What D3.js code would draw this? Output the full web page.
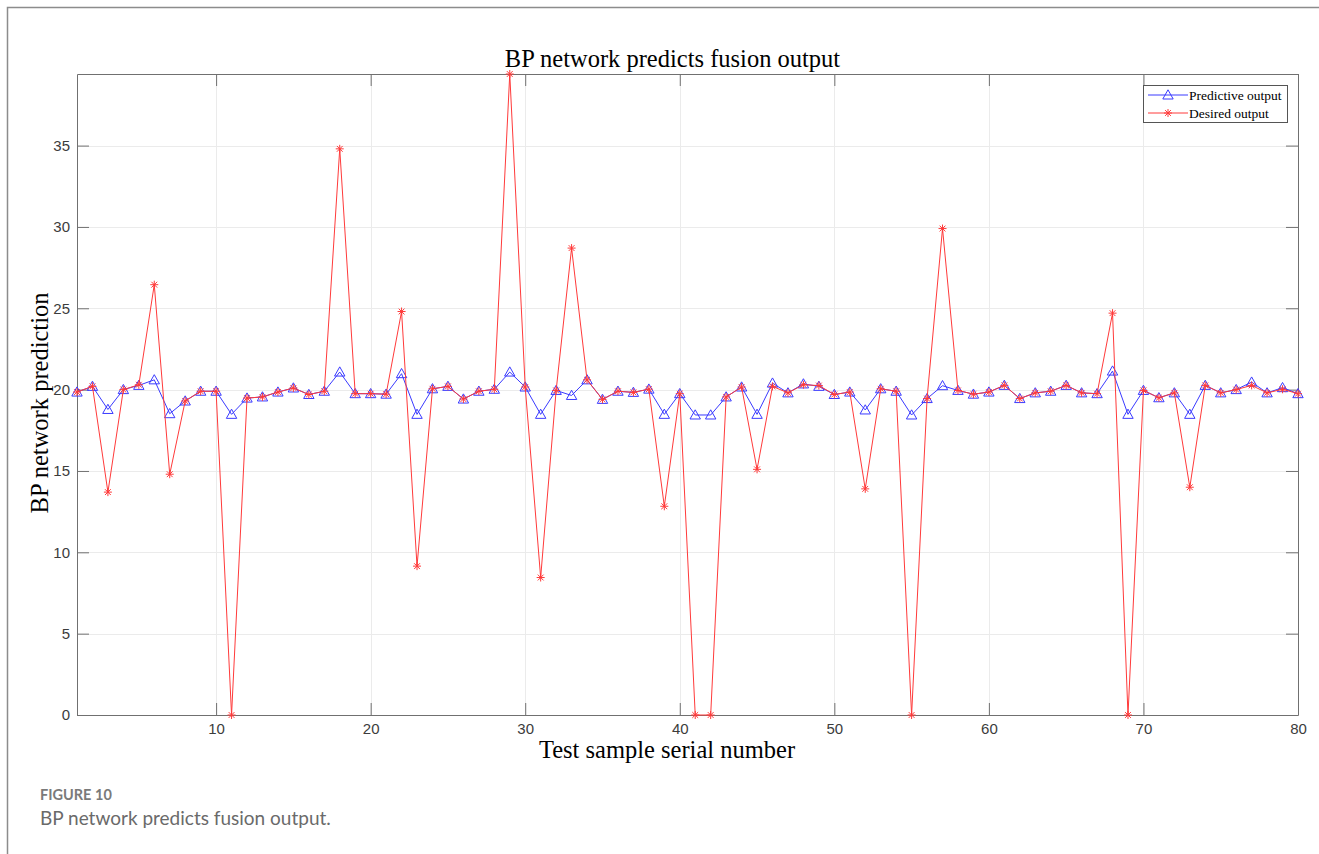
<!DOCTYPE html>
<html>
<head>
<meta charset="utf-8">
<script src="https://cdn.jsdelivr.net/npm/d3@7"></script>
<style>
  html, body { margin: 0; padding: 0; background: #ffffff; }
  svg { display: block; }
</style>
</head>
<body>
<svg id="chart" width="1319" height="854"></svg>
<script>
// BP network output for 80 test samples
const predictive = [
  19.85, 20.2, 18.78, 20.0, 20.26, 20.6, 18.52, 19.3, 19.9, 19.9,
  18.48, 19.48, 19.55, 19.85, 20.1, 19.7, 19.9, 21.08, 19.75, 19.75,
  19.72, 20.98, 18.48, 20.05, 20.2, 19.42, 19.9, 20.02, 21.08, 20.16,
  18.48, 19.95, 19.64, 20.6, 19.4, 19.9, 19.83, 20.03, 18.48, 19.75,
  18.44, 18.44, 19.55, 20.16, 18.48, 20.4, 19.8, 20.35, 20.2, 19.7,
  19.85, 18.75, 20.05, 19.9, 18.44, 19.45, 20.24, 19.95, 19.72, 19.85,
  20.26, 19.45, 19.8, 19.9, 20.26, 19.8, 19.75, 21.14, 18.48, 19.95,
  19.5, 19.8, 18.48, 20.26, 19.8, 20.0, 20.46, 19.8, 20.12, 19.75
];
const desired = [
  19.85, 20.2, 13.7, 20.0, 20.3, 26.45, 14.8, 19.3, 19.9, 19.9,
  0, 19.48, 19.55, 19.85, 20.1, 19.7, 19.9, 34.8, 19.75, 19.75,
  19.72, 24.8, 9.15, 20.05, 20.2, 19.42, 19.9, 20.02, 39.4, 20.16,
  8.45, 19.95, 28.7, 20.6, 19.4, 19.9, 19.83, 20.03, 12.83, 19.75,
  0, 0, 19.55, 20.16, 15.1, 20.2, 19.8, 20.3, 20.25, 19.7,
  19.85, 13.9, 20.05, 19.9, 0, 19.45, 29.9, 19.95, 19.72, 19.85,
  20.26, 19.45, 19.8, 19.9, 20.26, 19.8, 19.75, 24.7, 0, 19.95,
  19.5, 19.8, 14.0, 20.26, 19.8, 20.0, 20.26, 19.8, 20.02, 19.75
];
const xTicks = [10, 20, 30, 40, 50, 60, 70, 80];
const yTicks = [0, 5, 10, 15, 20, 25, 30, 35];
const seriesNames = ["Predictive output", "Desired output"];

const svg = d3.select("#chart");
const W = 1319, H = 854;

// outer figure card edge
svg.append("path")
  .attr("d", `M7.5,${H} V7.5 H${W}`)
  .attr("fill", "none").attr("stroke", "#8c8c8c").attr("stroke-width", 1.5);

const plot = { left: 77, right: 1298, top: 74, bottom: 715 };
const x = d3.scaleLinear().domain([1, 80]).range([plot.left, plot.right]);
const y = d3.scaleLinear().domain([0, 39.4]).range([plot.bottom, plot.top]);

const samples = predictive.map((_, i) => i + 1);

// grid
const grid = svg.append("g");
grid.selectAll("line.vg").data(xTicks.filter(t => t < 80)).enter().append("line")
  .attr("x1", d => Math.round(x(d)) + 0.5).attr("x2", d => Math.round(x(d)) + 0.5)
  .attr("y1", plot.top).attr("y2", plot.bottom)
  .attr("stroke", "#ebebeb").attr("stroke-width", 1);
grid.selectAll("line.hg").data(yTicks.filter(t => t > 0)).enter().append("line")
  .attr("y1", d => Math.round(y(d)) + 0.5).attr("y2", d => Math.round(y(d)) + 0.5)
  .attr("x1", plot.left).attr("x2", plot.right)
  .attr("stroke", "#ebebeb").attr("stroke-width", 1);

// axes (inward ticks, box on all sides)
const axisColor = "#707070";
const tickLen = 12;
const bottomAxis = d3.axisBottom(x).tickValues(xTicks).tickSizeInner(-tickLen).tickSizeOuter(0).tickPadding(8);
const topAxis = d3.axisTop(x).tickValues(xTicks).tickSizeInner(-tickLen).tickSizeOuter(0).tickFormat("");
const leftAxis = d3.axisLeft(y).tickValues(yTicks).tickSizeInner(-tickLen).tickSizeOuter(0).tickPadding(7);
const rightAxis = d3.axisRight(y).tickValues(yTicks).tickSizeInner(-tickLen).tickSizeOuter(0).tickFormat("");

function styleAxis(g) {
  g.select(".domain").attr("stroke", axisColor);
  g.selectAll(".tick line").attr("stroke", axisColor);
  g.selectAll(".tick text").attr("fill", "#3c3c3c")
    .style("font-family", "'Liberation Sans', Arial, sans-serif").style("font-size", "15px");
}
svg.append("g").attr("transform", `translate(0,${plot.bottom})`).call(bottomAxis).call(styleAxis);
svg.append("g").attr("transform", `translate(0,${plot.top})`).call(topAxis).call(styleAxis);
svg.append("g").attr("transform", `translate(${plot.left},0)`).call(leftAxis).call(styleAxis);
svg.append("g").attr("transform", `translate(${plot.right},0)`).call(rightAxis).call(styleAxis);

// series
const blue = "#3a3aff", red = "#ff3a3a";
const triPath = "M0,-5.2 L5.2,4 L-5.2,4 Z";
const starPath = "M-4,0H4M0,-4V4M-2.9,-2.9L2.9,2.9M-2.9,2.9L2.9,-2.9";
const line = d3.line().x((d, i) => x(samples[i])).y(d => y(d));

svg.append("path").datum(predictive).attr("d", line)
  .attr("fill", "none").attr("stroke", blue).attr("stroke-width", 1);
svg.append("g").selectAll("path").data(predictive).enter().append("path")
  .attr("transform", (d, i) => `translate(${x(samples[i])},${y(d)})`)
  .attr("d", triPath).attr("fill", "none").attr("stroke", blue).attr("stroke-width", 1);

svg.append("path").datum(desired).attr("d", line)
  .attr("fill", "none").attr("stroke", red).attr("stroke-width", 1);
svg.append("g").selectAll("path").data(desired).enter().append("path")
  .attr("transform", (d, i) => `translate(${x(samples[i])},${y(d)})`)
  .attr("d", starPath).attr("fill", "none").attr("stroke", red).attr("stroke-width", 1);

// titles
const serif = "'Liberation Serif', 'Times New Roman', serif";
svg.append("text").attr("x", 672.5).attr("y", 67)
  .attr("text-anchor", "middle").style("font-family", serif).style("font-size", "24.5px")
  .attr("fill", "#000").text("BP network predicts fusion output");
svg.append("text").attr("x", 667).attr("y", 758)
  .attr("text-anchor", "middle").style("font-family", serif).style("font-size", "24.5px")
  .attr("fill", "#000").text("Test sample serial number");
svg.append("text").attr("transform", "translate(48,403) rotate(-90)")
  .attr("text-anchor", "middle").style("font-family", serif).style("font-size", "24.5px")
  .attr("fill", "#000").text("BP network prediction");

// legend
const lg = svg.append("g").attr("transform", "translate(1143,85)");
lg.append("rect").attr("x", 0.5).attr("y", 0.5).attr("width", 144).attr("height", 37)
  .attr("fill", "#fff").attr("stroke", "#555").attr("stroke-width", 1);
const legendRows = [
  { name: seriesNames[0], color: blue, marker: triPath, cy: 10 },
  { name: seriesNames[1], color: red, marker: starPath, cy: 28 }
];
legendRows.forEach(r => {
  lg.append("line").attr("x1", 5).attr("x2", 45).attr("y1", r.cy).attr("y2", r.cy)
    .attr("stroke", r.color).attr("stroke-width", 1);
  lg.append("path").attr("transform", `translate(25,${r.cy})`).attr("d", r.marker)
    .attr("fill", "none").attr("stroke", r.color).attr("stroke-width", 1);
  lg.append("text").attr("x", 46).attr("y", r.cy + 4.5)
    .style("font-family", serif).style("font-size", "13.5px").attr("fill", "#000").text(r.name);
});

// caption
svg.append("text").attr("x", 40).attr("y", 800)
  .style("font-family", "Lato, 'Open Sans', sans-serif").style("font-size", "14.5px")
  .style("font-weight", "700").attr("fill", "#7a7a7a").text("FIGURE 10");
svg.append("text").attr("x", 40).attr("y", 825)
  .style("font-family", "Lato, 'Open Sans', sans-serif").style("font-size", "19px")
  .attr("fill", "#6a6a6a").text("BP network predicts fusion output.");
</script>
</body>
</html>
